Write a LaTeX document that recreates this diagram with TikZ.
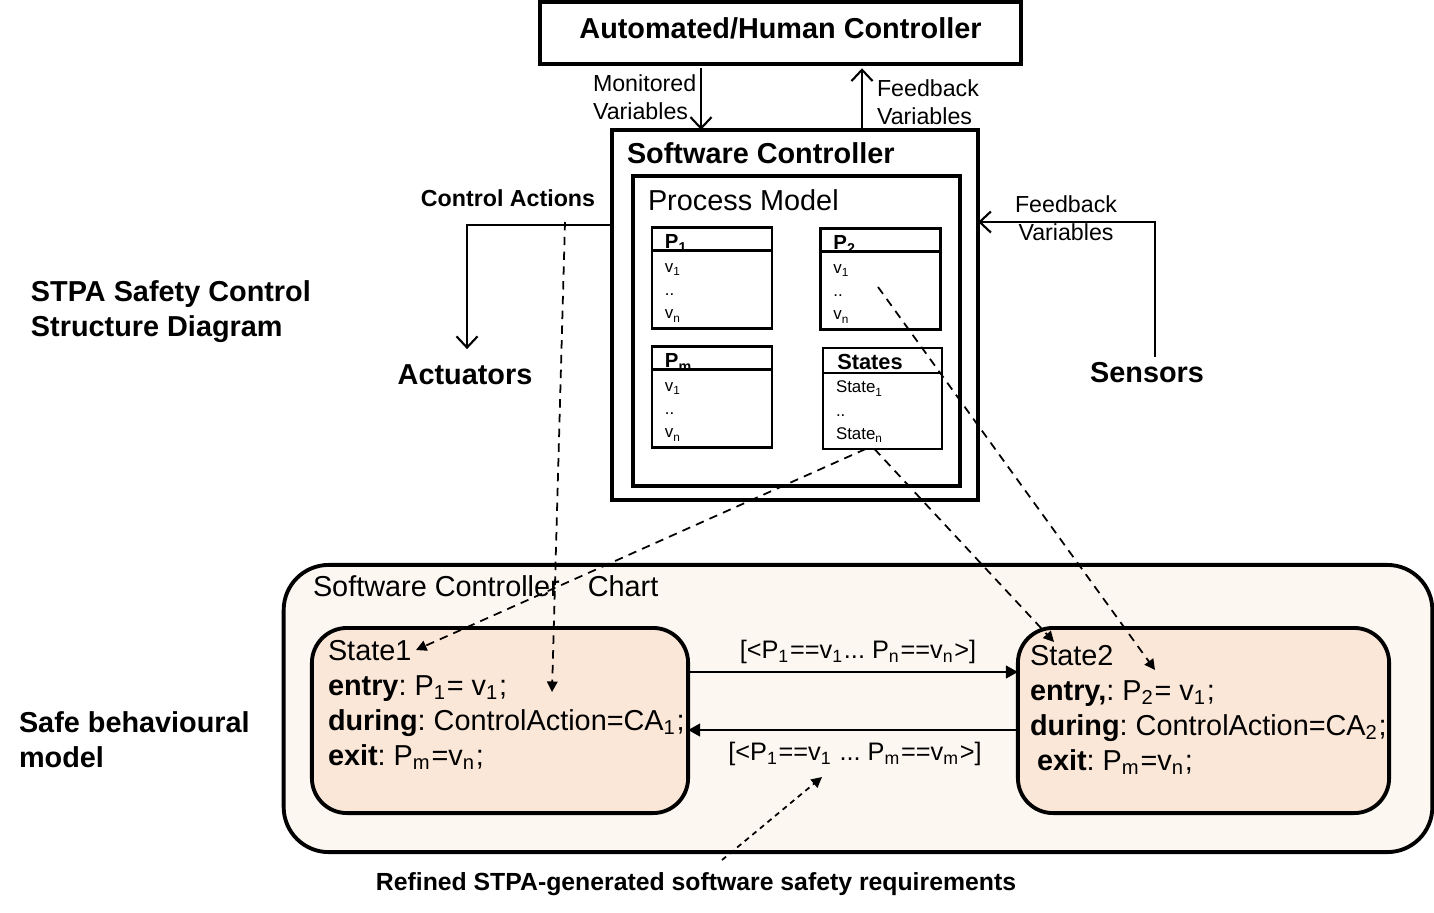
\documentclass[tikz,border=0pt]{standalone}
\usepackage{fontspec}
\setmainfont{Liberation Sans}
\usetikzlibrary{arrows.meta}

\definecolor{chartfill}{HTML}{FDF7F2}
\definecolor{statefill}{HTML}{FBE7D8}

\newcommand{\bigtxt}{\fontsize{8.2}{10}\selectfont}
\newcommand{\transtxt}{\fontsize{7.2}{8.6}\selectfont}
\newcommand{\midtxt}{\fontsize{6.6}{7.8}\selectfont}
\newcommand{\hdtxt}{\fontsize{5.8}{6.6}\selectfont}
\newcommand{\smalltxt}{\fontsize{4.8}{6.6}\selectfont}
\frenchspacing

\begin{document}
\begin{tikzpicture}[
        x=0.01cm, y=-0.01cm,
        every node/.style={inner sep=0pt, outer sep=0pt},
        frame/.style={draw, line width=1.1pt},
        varbox/.style={draw, line width=0.8pt, minimum width=1.2cm, minimum height=1.01cm},
        statebox/.style={draw, line width=1.1pt, rounded corners=0.35cm, fill=statefill, minimum height=1.85cm},
        flow/.style={-{Straight Barb[length=3.2pt,width=6pt]}, line width=0.6pt},
        trans/.style={-{Triangle[length=3.4pt,width=3.6pt]}, line width=0.6pt},
        link/.style={-{Triangle[length=3pt,width=3pt]}, dash pattern=on 2.4pt off 1.8pt, line width=0.5pt},
        reqlink/.style={-{Triangle[length=3pt,width=3pt]}, dash pattern=on 1.5pt off 1.3pt, line width=0.5pt}
    ]
    \useasboundingbox (0,0) rectangle (1434,912);
%
    % STPA control structure
    \node[frame, minimum width=4.81cm, minimum height=0.62cm, text depth=0.1cm, font=\bigtxt\bfseries] (ahc) at (780.5,33) {Automated/Human Controller};
    \node[frame, minimum width=3.66cm, minimum height=3.70cm] (sc) at (795,315) {};
    \node[font=\bigtxt\bfseries, anchor=west] (scTitle) at (627,153) {Software Controller};
    \node[frame, minimum width=3.27cm, minimum height=3.10cm] (procModel) at (796.5,331) {};
    \node[font=\bigtxt, anchor=west] (pmTitle) at (648,200) {Process Model};
%
    \foreach \nm/\cx/\cy/\ttl in {p1/712/278/{P\textsubscript{1}}, p2/880.5/279/{P\textsubscript{2}}, pm/712/397/{P\textsubscript{m}}} {
        \node[varbox] (\nm) at (\cx,\cy) {};
        \draw[line width=0.8pt] ([yshift=-0.23cm]\nm.north west) -- ([yshift=-0.23cm]\nm.north east);
        \node[font=\hdtxt\bfseries, anchor=base west] (\nm title) at ([xshift=0.13cm,yshift=-0.21cm]\nm.north west) {\ttl};
        \node[font=\smalltxt, anchor=north west, align=left] (\nm vars) at ([xshift=0.13cm,yshift=-0.36cm]\nm.north west) {v\textsubscript{1}\\..\\v\textsubscript{n}};
    }
    \node[varbox, minimum width=1.19cm] (states) at (882.5,398.5) {};
    \draw[line width=0.8pt] ([yshift=-0.25cm]states.north west) -- ([yshift=-0.25cm]states.north east);
    \node[font=\fontsize{6.2}{7}\selectfont\bfseries] (statesTitle) at (870,362) {States};
    \node[font=\smalltxt, anchor=north west, align=left] (statesList) at (836,381) {State\textsubscript{1}\\..\\State\textsubscript{n}};
%
    \node[font=\midtxt, anchor=west, align=left] (monLbl) at (593,97) {Monitored\\Variables};
    \node[font=\midtxt, anchor=west, align=left] (fbTopLbl) at (877,102) {Feedback\\Variables};
    \draw[flow, shorten <=1.2pt] (ahc.south -| 701,0) -- (sc.north -| 701,0);
    \draw[flow, shorten >=1.2pt] (sc.north -| 862,0) -- (ahc.south -| 862,0);
%
    \node[font=\midtxt\bfseries] (caLbl) at (508,198) {Control Actions};
    \node[font=\bigtxt\bfseries] (act) at (465,375) {Actuators};
    \draw[flow, shorten >=4.5pt] (sc.west |- 0,225) -| ([xshift=0.02cm]act.north);
%
    \node[font=\midtxt, align=center] (fbRightLbl) at (1066,218) {Feedback\\Variables};
    \node[font=\bigtxt\bfseries] (sens) at (1147,373) {Sensors};
    \draw[flow] ([xshift=0.08cm,yshift=0.06cm]sens.north) |- (sc.east |- 0,222);
%
    \node[font=\bigtxt\bfseries, anchor=west, align=left] (stpaLbl) at (31,311.5) {STPA Safety Control\\Structure Diagram};
    \node[font=\bigtxt\bfseries, anchor=west, align=left] (safeLbl) at (19,739.5) {Safe behavioural\\model};
%
    % statechart
    \node[draw, line width=1.1pt, rounded corners=0.45cm, fill=chartfill, minimum width=11.48cm, minimum height=2.87cm] (chart) at (858,708.5) {};
    \node[font=\bigtxt, anchor=west] (chartTitle) at (313,586) {Software Controller\hspace{0.2cm} Chart};
    \node[statebox, minimum width=3.76cm] (s1) at (500,720.5) {};
    \node[statebox, minimum width=3.71cm] (s2) at (1203.5,720.5) {};
    \node[font=\bigtxt, anchor=north west, align=left] (s1text) at (328,640) {State1\\\textbf{entry}: P\textsubscript{1}= v\textsubscript{1};\\\textbf{during}: ControlAction=CA\textsubscript{1};\\\textbf{exit}: P\textsubscript{m}=v\textsubscript{n};};
    \node[font=\bigtxt, anchor=north west, align=left] (s2text) at (1030,645) {State2\\\textbf{entry,}: P\textsubscript{2}= v\textsubscript{1};\\\textbf{during}: ControlAction=CA\textsubscript{2};\\\hspace*{0.07cm}\textbf{exit}: P\textsubscript{m}=v\textsubscript{n};};
%
    \draw[trans] (s1.east |- 0,672) -- (s2.west |- 0,672);
    \draw[trans] (s2.west |- 0,730) -- (s1.east |- 0,730);
    \node[font=\transtxt] (g12) at (858,652) {[<P\textsubscript{1}==v\textsubscript{1}... P\textsubscript{n}==v\textsubscript{n}>]};
    \node[font=\transtxt] (g21) at (855,754) {[<P\textsubscript{1}==v\textsubscript{1} ... P\textsubscript{m}==v\textsubscript{m}>]};
%
    % traceability links
    \coordinate (caTap) at (565,222);
    \coordinate (s1entry) at (552,692);
    \coordinate (s1tip) at (416,650);
    \coordinate (s2tip) at (1054,642);
    \coordinate (p2tap) at (878,287);
    \coordinate (s2entry) at (1155,670);
    \draw[link] (caTap) -- (s1entry);
    \draw[link] ([xshift=-0.17cm]states.south) -- (s1tip);
    \draw[link] ([xshift=-0.08cm]states.south) -- (s2tip);
    \draw[link] (p2tap) -- (s2entry);
%
    \node[font=\fontsize{7.05}{8}\selectfont\bfseries] (req) at (696,884) {Refined STPA-generated software safety requirements};
    \coordinate (reqTail) at (722,860);
    \coordinate (reqTip) at (822,777);
    \draw[reqlink] (reqTail) -- (reqTip);
\end{tikzpicture}
\end{document}
